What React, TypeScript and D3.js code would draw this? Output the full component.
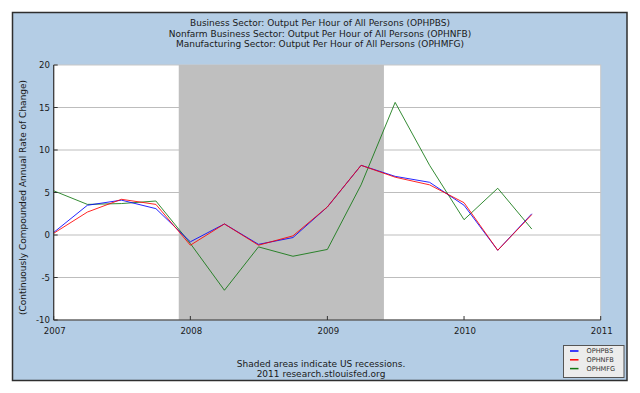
import React from "react";
import * as d3 from "d3";

const titleLines = [
  "Business Sector: Output Per Hour of All Persons (OPHPBS)",
  "Nonfarm Business Sector: Output Per Hour of All Persons (OPHNFB)",
  "Manufacturing Sector: Output Per Hour of All Persons (OPHMFG)",
];
const quarters = [
  "2007-01-01", "2007-04-01", "2007-07-01", "2007-10-01",
  "2008-01-01", "2008-04-01", "2008-07-01", "2008-10-01",
  "2009-01-01", "2009-04-01", "2009-07-01", "2009-10-01",
  "2010-01-01", "2010-04-01", "2010-07-01",
];
const ophpbs = [0.3, 3.5, 4.1, 3.1, -0.8, 1.3, -1.1, -0.3, 3.3, 8.2, 6.9, 6.2, 3.5, -1.8, 2.5];
const ophnfb = [0.2, 2.7, 4.2, 3.6, -1.2, 1.3, -1.2, -0.1, 3.3, 8.2, 6.8, 5.9, 3.8, -1.8, 2.4];
const ophmfg = [5.2, 3.6, 3.7, 4.0, -1.0, -6.5, -1.4, -2.5, -1.7, 5.9, 15.6, 8.2, 1.8, 5.5, 0.7];
const recession = ["2007-12-01", "2009-06-01"];
const yTicks = [-10, -5, 0, 5, 10, 15, 20];
const xTicks = ["2007", "2008", "2009", "2010", "2011"];
const seriesNames = ["OPHPBS", "OPHNFB", "OPHMFG"];
const seriesColors = ["#0000ff", "#ff0000", "#117711"];

export default function App() {
  const W = 640, H = 393;
  const left = 53.7, right = 600.7, top = 65, bottom = 320;
  const parse = d3.utcParse("%Y-%m-%d");
  const x = d3.scaleUtc()
    .domain([parse("2007-01-01")!, parse("2011-01-01")!])
    .range([left, right]);
  const y = d3.scaleLinear().domain([-10, 20]).range([bottom, top]);
  const dates = quarters.map((q) => parse(q)!);
  const allSeries = [ophpbs, ophnfb, ophmfg];
  const line = d3.line<[Date, number]>().x((d) => x(d[0])).y((d) => y(d[1]));
  const font = "DejaVu Sans, Verdana, sans-serif";
  const rx0 = x(parse(recession[0])!), rx1 = x(parse(recession[1])!);
  const drawOrder = [2, 0, 1];
  const fs = 9;

  return (
    <svg width={W} height={H} style={{ position: "absolute", left: 0, top: 0, display: "block" }} fontFamily={font}>
      <rect x={0} y={0} width={W} height={H} fill="#ffffff" />
      <rect x={12.5} y={12.5} width={614.5} height={368} fill="#b4cde5" stroke="#2e2e2e" strokeWidth={1.5} />
      {titleLines.map((t, i) => (
        <text key={i} x={320} y={26 + i * 10.5} textAnchor="middle" fontSize={fs} fill="#1a1a1a">{t}</text>
      ))}
      <rect x={left} y={top} width={right - left} height={bottom - top} fill="#ffffff" stroke="#c8c8c8" strokeWidth={1} />
      {yTicks.filter((v) => v > -10 && v < 20).map((v) => (
        <line key={v} x1={left} x2={right} y1={y(v)} y2={y(v)} stroke="#bdbdbd" strokeWidth={1} />
      ))}
      <rect x={rx0} y={top} width={rx1 - rx0} height={bottom - top} fill="#bfbfbf" />
      {drawOrder.map((si) => (
        <path key={si}
          d={line(dates.map((d, i) => [d, allSeries[si][i]] as [Date, number])) || ""}
          fill="none" stroke={seriesColors[si]} strokeWidth={1} strokeOpacity={0.85} />
      ))}
      <line x1={left} x2={left} y1={top} y2={bottom} stroke="#333" strokeWidth={1.2} />
      <line x1={left} x2={right} y1={bottom} y2={bottom} stroke="#333" strokeWidth={1.2} />
      {yTicks.map((v) => (
        <g key={v}>
          <line x1={left} x2={left + 4} y1={y(v)} y2={y(v)} stroke="#333" strokeWidth={1} />
          <text x={50} y={y(v) + 3} textAnchor="end" fontSize={8.6} fill="#1a1a1a">{v}</text>
        </g>
      ))}
      {xTicks.map((t) => {
        const xv = x(parse(`${t}-01-01`)!);
        return (
          <g key={t}>
            <line x1={xv} x2={xv} y1={bottom} y2={bottom - 4} stroke="#333" strokeWidth={1} />
            <text x={xv + 1} y={334} textAnchor="middle" fontSize={8.6} fill="#1a1a1a">{t}</text>
          </g>
        );
      })}
      <text transform={`translate(26, ${(top + bottom) / 2 + 5}) rotate(-90)`} textAnchor="middle" fontSize={fs} fill="#1a1a1a">
        (Continuously Compounded Annual Rate of Change)
      </text>
      <text x={321} y={367} textAnchor="middle" fontSize={fs} fill="#1a1a1a">Shaded areas indicate US recessions.</text>
      <text x={321} y={376.5} textAnchor="middle" fontSize={fs} fill="#1a1a1a">2011 research.stlouisfed.org</text>
      <rect x={563.5} y={345.5} width={60.5} height={32} fill="#ececec" stroke="#555" strokeWidth={1} />
      {seriesNames.map((n, i) => (
        <g key={n}>
          <line x1={570} x2={578.5} y1={351 + i * 8.8} y2={351 + i * 8.8} stroke={seriesColors[i]} strokeWidth={1.5} />
          <text x={586.5} y={353.3 + i * 8.8} fontSize={6.6} fill="#333">{n}</text>
        </g>
      ))}
    </svg>
  );
}
